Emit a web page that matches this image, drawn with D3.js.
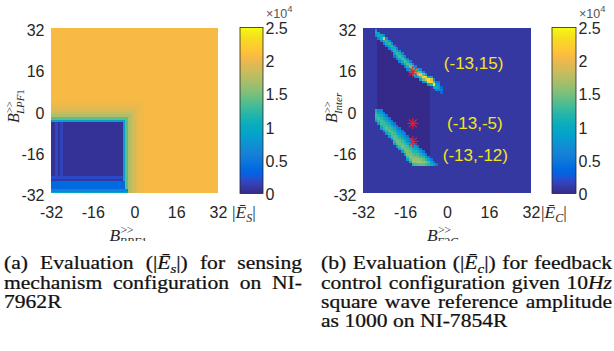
<!DOCTYPE html>
<html><head><meta charset="utf-8">
<script src="https://cdn.jsdelivr.net/npm/d3@7"></script>
<style>body{margin:0;background:#fff}svg{display:block}</style>
</head><body>
<svg id="c" width="614" height="351"></svg>
<script>
// ================= DATA (heat values in units of 1e3) =================
const axisTicks = [-32, -16, 0, 16, 32];
const cbTicks = [0, 5, 10, 15, 20, 25];
const cbTickLabels = ["0", "0.5", "1", "1.5", "2", "2.5"];

// (a) sensing: base value + rectangles [x0, x1, y0, y1, value] painted in order
const sensingBase = 20.6;
const sensingRects = [
  [-32, 3, -32, 3, 20.3],
  [-32, 2, -32, 2, 20.0],
  [-32, 1, -32, 1, 19.6],
  [-32, 0, -32, 0, 19.0],
  [-32, -1, -32, -1, 18.3],
  [-32, -2, -32, -2, 17.2],
  [-32, -3, -32, -3, 14.0],
  [-32, -4, -32, -4, 8.5],
  [-32, -5, -32, -5, 0.5],
  [-30, -30, -25, -5, 1.8],
  [-28, -28, -25, -5, 1.6],
  [-32, -5, -26, -26, 2.0],
  [-32, -5, -27, -27, 0.8],
  [-32, -4, -30, -28, 3.8],
  [-32, -3, -31, -31, 6.0],
  [-32, -3, -32, -32, 9.5]
];

// (b) feedback: base value, darker gap between bands, bands as [x, yBottom, values bottom->top]
const feedbackBase = 0.8;
const feedbackGapCols = [-26, -7];
const feedbackGapValue = 0.1;
const feedbackUpper = [
  [-27, 29, [7, 10, 8]],
  [-26, 28, [6, 10, 9]],
  [-25, 27, [6, 11, 10]],
  [-24, 26, [6, 11, 21, 7]],
  [-23, 25, [6, 11, 12, 7]],
  [-22, 24, [6, 10, 12, 7]],
  [-21, 23, [6, 10, 12, 7]],
  [-20, 21, [5, 9, 12, 11, 6]],
  [-19, 20, [6, 10, 13, 10, 6]],
  [-18, 19, [6, 10, 13, 11, 6]],
  [-17, 18, [6, 10, 13, 11, 6]],
  [-16, 17, [6, 10, 14, 11, 6]],
  [-15, 16, [6, 11, 14, 11, 6]],
  [-14, 15, [6, 11, 15, 12, 6]],
  [-13, 14, [6, 11, 16, 12, 6]],
  [-12, 13, [7, 12, 19, 13, 6]],
  [-11, 13, [8, 17, 20, 10]],
  [-10, 12, [8, 14, 21, 13, 6]],
  [-9, 11, [7, 15, 22, 14, 6]],
  [-8, 11, [10, 20, 22, 9]],
  [-7, 10, [9, 22, 24, 10]],
  [-6, 10, [12, 23, 20, 8]],
  [-5, 9, [10, 24, 14, 7]],
  [-4, 8, [6, 10, 8, 5]],
  [-3, 8, [6, 9, 7, 5]],
  [-2, 7, [4, 5, 4]]
];
const feedbackLower = [
  [-27, -4, [9, 12, 13, 12, 10]],
  [-26, -5, [8, 12, 13, 12, 9, 7]],
  [-25, -7, [8, 11, 13, 13, 12, 10, 8, 6]],
  [-24, -8, [8, 12, 13, 13, 12, 10, 8, 5]],
  [-23, -9, [8, 12, 14, 13, 12, 10, 8, 5]],
  [-22, -10, [9, 12, 14, 13, 12, 10, 7, 5]],
  [-21, -11, [9, 13, 14, 13, 12, 10, 7, 5]],
  [-20, -13, [8, 12, 14, 14, 13, 12, 10, 7, 5]],
  [-19, -14, [9, 13, 15, 14, 13, 11, 9, 7, 5]],
  [-18, -15, [9, 13, 15, 14, 13, 11, 9, 7, 5]],
  [-17, -16, [9, 13, 15, 14, 13, 11, 9, 7, 5]],
  [-16, -17, [9, 14, 15, 14, 13, 11, 9, 7, 5]],
  [-15, -19, [9, 13, 15, 15, 14, 13, 11, 9, 7, 5]],
  [-14, -20, [10, 14, 16, 15, 14, 13, 11, 9, 7, 5]],
  [-13, -21, [12, 16, 16, 15, 14, 12, 11, 9, 7, 5]],
  [-12, -21, [13, 16, 16, 15, 13, 12, 10, 8, 5]],
  [-11, -21, [14, 17, 16, 14, 13, 11, 8, 5]],
  [-10, -21, [14, 17, 15, 13, 11, 8, 5]],
  [-9, -21, [14, 16, 14, 12, 8, 5]],
  [-8, -21, [13, 15, 12, 8, 5]],
  [-7, -21, [12, 13, 9, 5]],
  [-6, -21, [10, 9, 5]],
  [-5, -21, [8, 5]],
  [-4, -21, [5]]
];
const markerX = [-13, -13, -13];
const markerY = [15, -5, -12];
const annotText = ["(-13,15)", "(-13,-5)", "(-13,-12)"];
const annotX = [-1.2, 0.0, -1.6];
const annotY = [18.4, -4.8, -17.3];

const captionALines = ["(a) Evaluation (|{i:Ē}{s:s}|) for sensing", "mechanism configuration on NI-", "7962R"];
const captionBLines = ["(b) Evaluation (|{i:Ē}{s:c}|) for feedback", "control configuration given 10{i:Hz}",
                       "square wave reference amplitude", "as 1000 on NI-7854R"];

// ================= STYLE =================
const parulaHex = ["#352a87","#363093","#3637a0","#353dad","#3243ba","#2c4ac7","#2053d4","#0f5cdd","#0363e1","#0268e1","#046de0","#0871de","#0d75dc","#1079da","#127dd8","#1481d6","#1485d4","#1389d3","#108ed2","#0c93d2","#0998d1","#079ccf","#06a0cd","#06a4ca","#06a7c6","#07a9c2","#0aacbe","#0faeb9","#15b1b4","#1db3af","#25b5a9","#2eb7a4","#38b99e","#42bb98","#4dbc92","#59bd8c","#65be86","#71bf80","#7cbf7b","#87bf77","#92bf73","#9cbf6f","#a5be6b","#aebe67","#b7bd64","#c0bc60","#c8bc5d","#d1bb59","#d9ba56","#e1b952","#e9b94e","#f1b94a","#f8bb44","#fdbe3d","#ffc337","#fec832","#fcce2e","#fad32a","#f7d826","#f5de21","#f5e41d","#f5eb18","#f6f313","#f9fb0e"];
const color = d3.scaleLinear().domain(parulaHex.map((c, i) => i / 63 * 25)).range(parulaHex).clamp(true);
const SANS = "'Liberation Sans', Arial, sans-serif";
const SERIF = "'Liberation Serif', 'Times New Roman', serif";
const TXT = "#262626";

const svg = d3.select("#c");
const defs = svg.append("defs");
defs.append("filter").attr("id", "soft").attr("x", "-5%").attr("y", "-5%").attr("width", "110%").attr("height", "110%")
  .append("feGaussianBlur").attr("stdDeviation", 0.65);
defs.append("clipPath").attr("id", "chartClip").append("rect").attr("x", 0).attr("y", 0).attr("width", 614).attr("height", 241);
const grad = defs.append("linearGradient").attr("id", "cbGrad").attr("x1", 0).attr("y1", 1).attr("x2", 0).attr("y2", 0);
parulaHex.forEach((c, i) => grad.append("stop").attr("offset", i / 63).attr("stop-color", c));

const chart = svg.append("g").attr("clip-path", "url(#chartClip)");

function makeGrid(base) {
  const m = new Map();
  for (let x = -32; x <= 32; x++) for (let y = -32; y <= 32; y++) m.set(x + "," + y, base);
  return m;
}
function gridToCells(m) {
  const out = [];
  m.forEach((v, k) => { const [x, y] = k.split(",").map(Number); out.push({ x, y, v }); });
  return out;
}

// sensing grid
const gridA = makeGrid(sensingBase);
sensingRects.forEach(([x0, x1, y0, y1, v]) => {
  for (let x = x0; x <= x1; x++) for (let y = y0; y <= y1; y++) gridA.set(x + "," + y, v);
});
// feedback grid
const gridB = makeGrid(feedbackBase);
const upBottom = new Map(feedbackUpper.map(d => [d[0], d[1]]));
const lowTop = new Map(feedbackLower.map(d => [d[0], d[1] + d[2].length - 1]));
for (let x = feedbackGapCols[0]; x <= feedbackGapCols[1]; x++) {
  for (let y = lowTop.get(x) + 1; y < upBottom.get(x); y++) gridB.set(x + "," + y, feedbackGapValue);
}
[feedbackUpper, feedbackLower].forEach(band => band.forEach(([x, y0, vals]) => {
  vals.forEach((v, i) => gridB.set(x + "," + (y0 + i), v));
}));

function mathB(parent, x, y, rot, size, sup, subParts) {
  const g = parent.append("g").attr("transform", `translate(${x},${y}) rotate(${rot})`);
  const t = g.append("text").attr("font-family", SERIF).attr("font-size", size).attr("font-style", "italic").attr("fill", TXT).text("B");
  const w = t.node().getComputedTextLength();
  g.append("text").attr("x", w + 0.3).attr("y", -size * 0.4).attr("font-family", SERIF).attr("font-size", size * 0.68)
    .attr("fill", TXT).attr("letter-spacing", -0.5).text(sup);
  const s = g.append("text").attr("x", w - 0.8).attr("y", size * 0.3).attr("font-family", SERIF).attr("font-size", size * 0.68).attr("fill", TXT);
  subParts.forEach(([txt, it]) => s.append("tspan").attr("font-style", it ? "italic" : "normal").text(txt));
}

function drawPanel(cfg) {
  const xs = d3.scaleLinear().domain([-32, 32]).range([cfg.left, cfg.right]);
  const ys = d3.scaleLinear().domain([-32, 32]).range([cfg.bottom, cfg.top]);
  const clipId = "clip" + cfg.id;
  defs.append("clipPath").attr("id", clipId).append("rect")
    .attr("x", cfg.left).attr("y", cfg.top).attr("width", cfg.right - cfg.left).attr("height", cfg.bottom - cfg.top);
  const hm = chart.append("g").attr("clip-path", `url(#${clipId})`).append("g").attr("filter", "url(#soft)");
  hm.selectAll("rect").data(gridToCells(cfg.grid)).join("rect")
    .attr("shape-rendering", "crispEdges")
    .attr("x", d => xs(d.x - 0.5)).attr("y", d => ys(d.y + 0.5))
    .attr("width", d => xs(d.x + 0.5) - xs(d.x - 0.5)).attr("height", d => ys(d.y - 0.5) - ys(d.y + 0.5))
    .attr("fill", d => color(d.v));

  // axes
  const ax = chart.append("g").attr("transform", `translate(0,${cfg.bottom})`)
    .call(d3.axisBottom(xs).tickValues(axisTicks).tickSize(0).tickFormat(d => String(d)));
  ax.select(".domain").remove();
  ax.selectAll("text").attr("y", 25).attr("dy", null).attr("font-family", SANS).attr("font-size", 16).attr("fill", TXT);
  const ay = chart.append("g").attr("transform", `translate(${cfg.left},0)`)
    .call(d3.axisLeft(ys).tickValues(axisTicks).tickSize(0).tickPadding(6.5).tickFormat(d => String(d)));
  ay.select(".domain").remove();
  ay.selectAll("text").attr("dy", "0.47em").attr("font-family", SANS).attr("font-size", 16).attr("fill", TXT);

  // colorbar
  const cs = d3.scaleLinear().domain([0, 25]).range([cfg.cbB, cfg.cbT]);
  chart.append("rect").attr("x", cfg.cbL).attr("y", cfg.cbT).attr("width", cfg.cbR - cfg.cbL).attr("height", cfg.cbB - cfg.cbT)
    .attr("fill", "url(#cbGrad)").attr("stroke", TXT).attr("stroke-width", 0.8);
  const ac = chart.append("g").attr("transform", `translate(${cfg.cbR},0)`)
    .call(d3.axisRight(cs).tickValues(cbTicks).tickSize(0).tickPadding(2.5).tickFormat((d, i) => cbTickLabels[i]));
  ac.select(".domain").remove();
  ac.selectAll("text").attr("dy", "0.38em").attr("font-family", SANS).attr("font-size", 16).attr("fill", TXT);
  const ex = chart.append("text").attr("x", cfg.cbR + 3).attr("y", 18).attr("font-family", SANS).attr("font-size", 12.5).attr("fill", "#555");
  ex.append("tspan").text("×10");
  ex.append("tspan").attr("dy", -6).attr("font-size", 9.5).text("4");
  // colorbar label |Ē_X|
  const cl = chart.append("text").attr("x", cfg.cbLabelX).attr("y", 218).attr("font-family", SERIF).attr("font-size", 17.5).attr("fill", TXT);
  cl.append("tspan").text("|");
  cl.append("tspan").attr("font-style", "italic").text("Ē");
  cl.append("tspan").attr("font-style", "italic").attr("font-size", 12).attr("dy", 4).text(cfg.cbSub);
  cl.append("tspan").attr("dy", -4).text("|");

  // axis titles
  mathB(chart, cfg.xlabX, 241, 0, 17.5, ">>", cfg.xSub);
  mathB(chart, cfg.ylabX, 123, -90, 16, ">>", cfg.ySub);
  return { xs, ys };
}

drawPanel({ id: "A", grid: gridA, left: 51, right: 218, top: 28, bottom: 193,
  cbL: 240, cbR: 263, cbT: 27.5, cbB: 193.5, cbLabelX: 232, cbSub: "S",
  xlabX: 109.5, xSub: [["BPF", 1], ["1", 0]], ylabX: 19, ySub: [["LPF", 1], ["1", 0]] });
const pB = drawPanel({ id: "B", grid: gridB, left: 363, right: 531, top: 28, bottom: 193,
  cbL: 552, cbR: 576, cbT: 27.5, cbB: 193.5, cbLabelX: 541, cbSub: "C",
  xlabX: 427, xSub: [["E", 1], ["2", 0], ["C", 1]], ylabX: 337, ySub: [["Inter", 1]] });

// markers (asterisks) and annotations on panel (b)
const star = d3.range(4).map(i => i * Math.PI / 4);
const mk = chart.append("g");
markerX.forEach((mx, i) => {
  const cx = pB.xs(mx), cy = pB.ys(markerY[i]), r = 5.5;
  star.forEach(a => mk.append("line")
    .attr("x1", cx - r * Math.cos(a)).attr("y1", cy - r * Math.sin(a))
    .attr("x2", cx + r * Math.cos(a)).attr("y2", cy + r * Math.sin(a))
    .attr("stroke", "#ee1b2e").attr("stroke-width", 1.1));
});
chart.append("g").selectAll("text").data(annotText).join("text")
  .attr("x", (d, i) => pB.xs(annotX[i])).attr("y", (d, i) => pB.ys(annotY[i]))
  .attr("dy", "0.36em").attr("font-family", SANS).attr("font-size", 17).attr("fill", "#f4e41e").text(d => d);

// ================= CAPTIONS =================
const capFont = 18.3, capSx = 1.18, capBase0 = 269.2, capGap = 19.4;
function parseSegs(word) {
  const segs = []; const re = /\{(i|s):([^}]*)\}/g; let last = 0, m;
  while ((m = re.exec(word))) {
    if (m.index > last) segs.push(["n", word.slice(last, m.index)]);
    segs.push([m[1], m[2]]); last = re.lastIndex;
  }
  if (last < word.length) segs.push(["n", word.slice(last)]);
  return segs;
}
function drawCaption(lines, x0, x1) {
  lines.forEach((line, li) => {
    const g = svg.append("g").attr("transform", `translate(${x0},${capBase0 + li * capGap}) scale(${capSx},1)`);
    const words = line.split(" ");
    const nodes = words.map(w => {
      const t = g.append("text").attr("font-family", SERIF).attr("font-size", capFont).attr("fill", "#111")
        .attr("stroke", "#111").attr("stroke-width", 0.25);
      let sub = false;
      parseSegs(w).forEach(([k, s]) => {
        const ts = t.append("tspan").text(s);
        if (k === "i") ts.attr("font-style", "italic");
        if (k === "s") { ts.attr("font-style", "italic").attr("font-size", capFont * 0.7).attr("dy", capFont * 0.2); sub = true; }
        else if (sub) { ts.attr("dy", -capFont * 0.2); sub = false; }
      });
      return t;
    });
    const widths = nodes.map(n => n.node().getComputedTextLength());
    const total = d3.sum(widths);
    const avail = (x1 - x0) / capSx;
    const justify = li < lines.length - 1;
    const gap = justify && words.length > 1 ? (avail - total) / (words.length - 1) : capFont * 0.25;
    let x = 0;
    nodes.forEach((n, i) => { n.attr("x", x); x += widths[i] + gap; });
  });
}
drawCaption(captionALines, 4, 302);
drawCaption(captionBLines, 321, 612);
</script>
</body></html>
